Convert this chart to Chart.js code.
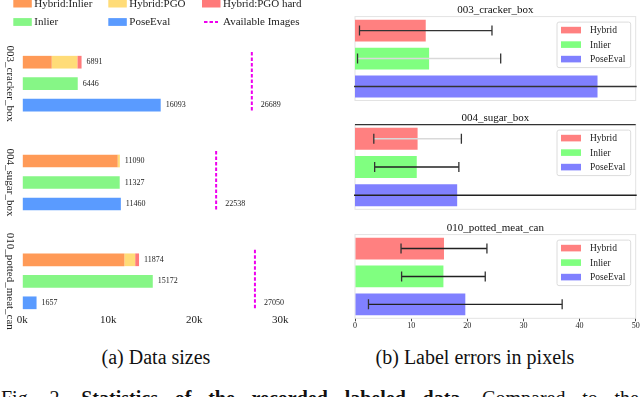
<!DOCTYPE html>
<html>
<head>
<meta charset="utf-8">
<script src="https://cdn.jsdelivr.net/npm/chart.js@4/dist/chart.umd.min.js"></script>
<style>
html,body{margin:0;padding:0;background:#fff;}
body{width:640px;height:397px;overflow:hidden;position:relative;font-family:'Liberation Serif','Times New Roman',serif;color:#111;}
canvas{position:absolute;}
.cap{position:absolute;font-size:20px;line-height:20px;text-align:center;white-space:nowrap;}
.fig{position:absolute;left:1px;top:388px;width:638px;font-size:20px;line-height:20px;white-space:nowrap;text-align:justify;text-align-last:justify;}
</style>
</head>
<body>
<canvas id="sizes" width="320" height="340" style="left:0;top:0"></canvas>
<canvas id="err0" width="320" height="105" style="left:320px;top:0"></canvas>
<canvas id="err1" width="320" height="108" style="left:320px;top:105px"></canvas>
<canvas id="err2" width="320" height="125" style="left:320px;top:213px"></canvas>
<div class="cap" style="left:0;width:312px;top:347px">(a) Data sizes</div>
<div class="cap" style="left:320px;width:310px;top:347px">(b) Label errors in pixels</div>
<div class="fig">Fig. 2. <b>Statistics of the recorded labeled data.</b> Compared to the</div>
<script>
// ---------- data: (a) data sizes ----------
const groups = ['003_cracker_box', '004_sugar_box', '010_potted_meat_can'];
const hybridInlier = [3420, 11090, 11874];
const hybridPGO = [2980, 250, 1250];
const hybridPGOHard = [490, 0, 450];
const inlierSizes = [6446, 11327, 15172];
const poseEvalSizes = [16093, 11460, 1657];
const hybridLabels = [6891, 11090, 11874];
const availableImages = [26689, 22538, 27050];
const sizeTicks = [0, 10000, 20000, 30000];

// ---------- data: (b) label errors ----------
const errSeries = ['Hybrid', 'Inlier', 'PoseEval'];
const hybridErrMean = [12.6, 11.15, 15.85];
const hybridErrStd = [11.8, 7.8, 7.65];
const inlierErrMean = [13.2, 11.0, 15.75];
const inlierErrStd = [12.75, 7.5, 7.45];
const poseErrMean = [43.2, 18.2, 19.65];
const poseErrStd = [48, 36, 17.25];
const errTicks = [0, 10, 20, 30, 40, 50];

const SERIF = "'Liberation Serif'";
const C = {
  hInlier: '#ff9a57', hPGO: '#ffdc78', hHard: '#ff7a7a',
  inlier: '#86f686', pose: '#5a9bff', avail: '#ee00ee',
  eHybrid: '#ff8080', eInlier: '#80ff80', ePose: '#8080ff'
};

// ---------- (a) plugin: group names, value labels, available lines, legend ----------
const sizesDecor = {
  id: 'sizesDecor',
  afterDatasetsDraw(chart) {
    const {ctx, scales: {x, y}} = chart;
    const metaH = [0, 1, 2].map(d => chart.getDatasetMeta(d));
    const metaI = chart.getDatasetMeta(3), metaP = chart.getDatasetMeta(4);
    const cat = y.getPixelForValue(1) - y.getPixelForValue(0);
    ctx.save();
    groups.forEach((g, i) => {
      ctx.font = '8px ' + SERIF; ctx.fillStyle = '#222';
      ctx.textBaseline = 'middle'; ctx.textAlign = 'left';
      const hx = Math.max(...metaH.map(m => m.data[i].x));
      ctx.fillText(String(hybridLabels[i]), hx + 5, metaH[0].data[i].y);
      ctx.fillText(String(inlierSizes[i]), metaI.data[i].x + 5, metaI.data[i].y);
      ctx.fillText(String(poseEvalSizes[i]), metaP.data[i].x + 5, metaP.data[i].y);
      const ax = x.getPixelForValue(availableImages[i]);
      const cy = y.getPixelForValue(i);
      ctx.save();
      ctx.strokeStyle = C.avail; ctx.lineWidth = 2; ctx.setLineDash([3.5, 2]);
      ctx.beginPath(); ctx.moveTo(ax, cy - 0.32 * cat); ctx.lineTo(ax, cy + 0.285 * cat); ctx.stroke();
      ctx.restore();
      ctx.fillText(String(availableImages[i]), ax + 9, metaP.data[i].y);
      ctx.save();
      ctx.translate(10, cy); ctx.rotate(Math.PI / 2);
      ctx.textAlign = 'center'; ctx.font = '11px ' + SERIF; ctx.fillStyle = '#222';
      ctx.fillText(g, 0, 0);
      ctx.restore();
    });
    // legend
    const items = chart.data.datasets.map(d => ({label: d.label, color: d.backgroundColor}));
    items.push({label: 'Available Images', color: C.avail, dashed: true});
    const colX = [13.3, 108.3, 202];
    const rowY = [3.6, 22];
    ctx.font = '11px ' + SERIF; ctx.textBaseline = 'middle'; ctx.textAlign = 'left';
    items.forEach((it, k) => {
      const cx = colX[k % 3], ry = rowY[Math.floor(k / 3)];
      if (it.dashed) {
        ctx.save(); ctx.strokeStyle = it.color; ctx.lineWidth = 2; ctx.setLineDash([3.5, 2]);
        ctx.beginPath(); ctx.moveTo(cx + 2, ry); ctx.lineTo(cx + 16, ry); ctx.stroke(); ctx.restore();
      } else {
        ctx.fillStyle = it.color; ctx.fillRect(cx, ry - 3.9, 18.5, 7.8);
      }
      ctx.fillStyle = '#222';
      ctx.fillText(it.label, cx + 21, ry + 0.5);
    });
    ctx.restore();
  }
};

new Chart(document.getElementById('sizes'), {
  type: 'bar',
  data: {
    labels: groups,
    datasets: [
      {label: 'Hybrid:Inlier', data: hybridInlier, backgroundColor: C.hInlier, stack: 'hybrid', clip: false},
      {label: 'Hybrid:PGO', data: hybridPGO, backgroundColor: C.hPGO, stack: 'hybrid', clip: false},
      {label: 'Hybrid:PGO hard', data: hybridPGOHard, backgroundColor: C.hHard, stack: 'hybrid', clip: false},
      {label: 'Inlier', data: inlierSizes, backgroundColor: C.inlier, stack: 'inlier', clip: false},
      {label: 'PoseEval', data: poseEvalSizes, backgroundColor: C.pose, stack: 'pose', clip: false}
    ]
  },
  options: {
    indexAxis: 'y', responsive: false, animation: false, devicePixelRatio: 1,
    categoryPercentage: 0.653, barPercentage: 0.59,
    layout: {padding: {top: 83.7, left: 22.3, right: 22.5, bottom: 0}},
    plugins: {legend: {display: false}, tooltip: {enabled: false}, title: {display: false}},
    scales: {
      x: {
        type: 'linear', min: 0, max: 32000, stacked: true,
        grid: {display: true, drawOnChartArea: false, drawTicks: true, tickLength: 32.6, color: 'rgba(0,0,0,0)'},
        border: {display: false},
        afterBuildTicks: s => { s.ticks = sizeTicks.map(v => ({value: v})); },
        afterFit: s => { s.height = 340 - 281.3; },
        ticks: {padding: 0, color: '#222', font: {family: SERIF, size: 11},
                callback: v => (v / 1000) + 'k'}
      },
      y: {type: 'category', offset: false, display: false}
    }
  },
  plugins: [sizesDecor]
});

// ---------- (b) plugin: frame, error bars, legend ----------
const errDecor = {
  id: 'errDecor',
  beforeDatasetsDraw(chart, args, o) {
    const {ctx, chartArea: a} = chart;
    ctx.save();
    ctx.strokeStyle = '#e3e3e3'; ctx.lineWidth = 1;
    ctx.strokeRect(a.left, a.top, a.width, a.height);
    ctx.restore();
  },
  afterDatasetsDraw(chart, args, o) {
    const {ctx, chartArea: a, scales: {x}} = chart;
    const meta = chart.getDatasetMeta(0);
    ctx.save();
    ctx.beginPath(); ctx.rect(a.left - 1, a.top - 1, a.width + 2, a.height + 2); ctx.clip();
    o.means.forEach((m, k) => {
      const yy = meta.data[k].y;
      const x1 = x.getPixelForValue(m - o.stds[k]);
      const x2 = x.getPixelForValue(m + o.stds[k]);
      ctx.strokeStyle = o.lineColors[k]; ctx.lineWidth = 1.4;
      ctx.beginPath(); ctx.moveTo(x1, yy); ctx.lineTo(x2, yy); ctx.stroke();
      ctx.strokeStyle = '#333'; ctx.lineWidth = 1.3;
      ctx.beginPath();
      ctx.moveTo(x1, yy - 5); ctx.lineTo(x1, yy + 5);
      ctx.moveTo(x2, yy - 5); ctx.lineTo(x2, yy + 5);
      ctx.stroke();
    });
    ctx.restore();
    if (o.topLine) {
      ctx.save(); ctx.strokeStyle = '#333'; ctx.lineWidth = 1.4;
      ctx.beginPath(); ctx.moveTo(a.left, a.top); ctx.lineTo(a.right, a.top); ctx.stroke(); ctx.restore();
    }
    // legend box
    const lx = a.right - 78.7, ly = a.top + 5.5;
    ctx.save();
    ctx.fillStyle = 'rgba(255,255,255,0.85)'; ctx.strokeStyle = '#dcdcdc'; ctx.lineWidth = 1;
    ctx.beginPath();
    if (ctx.roundRect) ctx.roundRect(lx, ly, 73.7, 45.5, 2); else ctx.rect(lx, ly, 73.7, 45.5);
    ctx.fill(); ctx.stroke();
    ctx.font = '9.5px ' + SERIF; ctx.textBaseline = 'middle'; ctx.textAlign = 'left';
    const cols = chart.data.datasets[0].backgroundColor;
    chart.data.labels.forEach((lab, k) => {
      const ry = a.top + 13.5 + k * 14.5;
      ctx.fillStyle = cols[k]; ctx.fillRect(lx + 4, ry - 3.3, 20, 6.6);
      ctx.fillStyle = '#222'; ctx.fillText(lab, lx + 33, ry + 0.5);
    });
    ctx.restore();
  }
};

const errLineStyles = [
  ['#333', '#d9d9d9', '#333'],
  ['#d9d9d9', '#222', '#222'],
  ['#222', '#222', '#222']
];
const errLayout = [
  {titleTop: 3.4, bottom: 4.5, showX: false, topLine: false},
  {titleTop: 6.4, bottom: 3.7, showX: false, topLine: true},
  {titleTop: 8.4, bottom: 0, showX: true, topLine: false}
];

groups.forEach((g, i) => {
  const L = errLayout[i];
  const canvas = document.getElementById('err' + i);
  new Chart(canvas, {
    type: 'bar',
    data: {
      labels: errSeries,
      datasets: [{
        label: g,
        data: [hybridErrMean[i], inlierErrMean[i], poseErrMean[i]],
        backgroundColor: [C.eHybrid, C.eInlier, C.ePose]
      }]
    },
    options: {
      indexAxis: 'y', responsive: false, animation: false, devicePixelRatio: 1,
      categoryPercentage: 1, barPercentage: 0.78,
      layout: {padding: {top: 0, left: 35, right: 4.3, bottom: L.bottom}},
      plugins: {
        legend: {display: false}, tooltip: {enabled: false},
        title: {display: true, text: g, color: '#111', font: {family: SERIF, size: 11, weight: 'normal'},
                padding: {top: L.titleTop, bottom: 0}},
        errDecor: {
          means: [hybridErrMean[i], inlierErrMean[i], poseErrMean[i]],
          stds: [hybridErrStd[i], inlierErrStd[i], poseErrStd[i]],
          lineColors: errLineStyles[i], topLine: L.topLine
        }
      },
      scales: {
        x: {
          type: 'linear', min: 0, max: 50, display: L.showX,
          grid: {drawOnChartArea: false, drawTicks: true, tickLength: 3, color: '#444'},
          border: {display: false},
          afterBuildTicks: s => { s.ticks = errTicks.map(v => ({value: v})); },
          afterFit: s => { if (L.showX) s.height = canvas.height - 105.3; },
          ticks: {padding: 0, color: '#222', font: {family: SERIF, size: 8}}
        },
        y: {display: false}
      }
    },
    plugins: [errDecor]
  });
});
</script>
</body>
</html>
